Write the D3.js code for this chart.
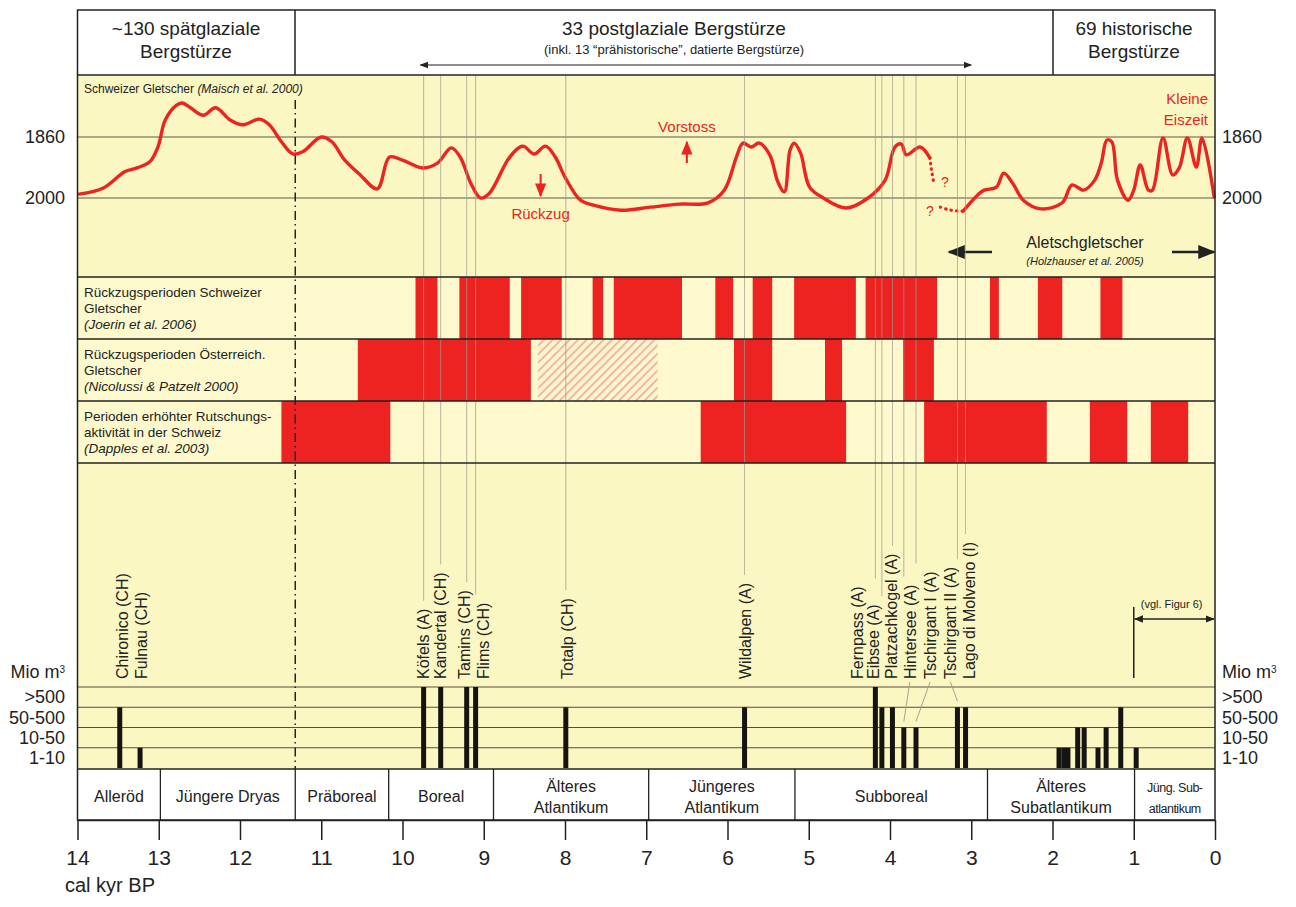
<!DOCTYPE html>
<html>
<head>
<meta charset="utf-8">
<script src="https://cdn.jsdelivr.net/npm/d3@7"></script>
<style>
  body { margin: 0; background: #fff; }
  svg { font-family: "Liberation Sans", Arial, sans-serif; }
</style>
</head>
<body>
<svg id="chart"></svg>
<script>
// glacier curve (Maisch et al. 2000): [kyr BP, level between 1860 and 2000]
var glacierOld = [[13.98,1991],[13.68,1977],[13.42,1940],[13.27,1931],[13.11,1917],[13.01,1883],[12.92,1821],
  [12.78,1787],[12.71,1782],[12.61,1793],[12.45,1810],[12.30,1793],[12.12,1821],[11.97,1832],[11.76,1819],
  [11.64,1832],[11.49,1871],[11.35,1899],[11.23,1894],[11.00,1860],[10.87,1871],[10.71,1913],[10.52,1947],
  [10.31,1979],[10.16,1906],[10.00,1913],[9.75,1931],[9.57,1920],[9.40,1885],[9.29,1906],[9.16,1966],
  [9.04,2000],[8.93,1989],[8.68,1906],[8.52,1881],[8.38,1899],[8.24,1881],[8.12,1906],[8.00,1952],
  [7.81,2005],[7.66,2016],[7.31,2028],[6.95,2021],[6.59,2014],[6.24,2011],[6.04,1982],[5.89,1906],
  [5.81,1874],[5.71,1883],[5.61,1874],[5.48,1901],[5.38,1963],[5.30,1986],[5.23,1890],[5.18,1874],
  [5.10,1897],[4.99,1975],[4.82,2000],[4.54,2023],[4.27,2000],[4.06,1959],[3.94,1883],[3.86,1876],
  [3.80,1901],[3.63,1883],[3.51,1908]];
var glacierGapA = [[3.51,1908],[3.49,1935],[3.46,1966]];
var glacierGapB = [[3.38,2021],[3.25,2028],[3.10,2030]];
var glacierYoung = [[3.10,2030],[2.92,1993],[2.84,1982],[2.69,1975],[2.60,1943],[2.49,1966],[2.36,2005],
  [2.14,2025],[1.88,2011],[1.76,1970],[1.62,1982],[1.48,1959],[1.40,1920],[1.33,1867],[1.27,1871],
  [1.20,1959],[1.07,2005],[1.00,1982],[0.92,1924],[0.82,1982],[0.77,1982],[0.64,1862],[0.52,1947],
  [0.44,1931],[0.34,1862],[0.23,1929],[0.16,1862],[0.01,1998]];
var glacierTicks = [1860, 2000];

// periods [from, to] in kyr BP
var swissRetreat = [[9.84,9.57],[9.30,8.68],[8.54,8.04],[7.66,7.53],[7.40,6.56],[6.15,5.93],[5.69,5.45],
  [5.18,4.42],[4.30,3.42],[2.77,2.66],[2.18,1.88],[1.41,1.14]];
var austrianRetreat = [[10.55,8.42],[5.92,5.45],[4.80,4.59],[3.84,3.46]];
var austrianUncertain = [[8.33,6.86]];
var slideActivity = [[11.49,10.15],[6.33,4.54],[3.58,2.07],[1.54,1.08],[0.79,0.33]];

// rock avalanches
var slideNames = ["Chironico (CH)","Fulnau (CH)","Köfels (A)","Kandertal (CH)","Tamins (CH)","Flims (CH)",
  "Totalp (CH)","Wildalpen (A)","Fernpass (A)","Eibsee (A)","Platzachkogel (A)","Hintersee (A)",
  "Tschirgant I (A)","Tschirgant II (A)","Lago di Molveno (I)"];
var slideAge = [13.48,13.23,9.74,9.53,9.21,9.10,7.99,5.79,4.18,4.10,3.97,3.83,3.68,3.17,3.07];
var slideVolume = ["50-500","1-10",">500",">500",">500",">500","50-500","50-500",">500","50-500","50-500",
  "10-50","10-50","50-500","50-500"];
var historicAge = [1.92,1.86,1.81,1.69,1.61,1.44,1.34,1.16,0.97];
var historicVolume = ["1-10","1-10","1-10","10-50","10-50","1-10","10-50","50-500","1-10"];
var volumeClasses = ["1-10","10-50","50-500",">500"];

// chronozones
var zoneNames = [["Alleröd"],["Jüngere Dryas"],["Präboreal"],["Boreal"],["Älteres","Atlantikum"],
  ["Jüngeres","Atlantikum"],["Subboreal"],["Älteres","Subatlantikum"],["Jüng. Sub-","atlantikum"]];
var zoneBounds = [14,12.98,11.32,10.17,8.88,6.97,5.17,2.80,0.99,0];
var yearTicks = d3.range(0, 15);

// label layout (px shift of rotated names, leader lines, names without guide line)
var labelDx = [2,1,0,0,-2,8,1,1,-18,-9,-1,6,14,-7,4];
var leaderFor = ["Hintersee (A)","Tschirgant I (A)","Tschirgant II (A)"];
var noGuide = ["Chironico (CH)","Fulnau (CH)"];

var W = 1296, H = 907;
var RED = "#ec2320", INK = "#222", PALE = "#fbf7c3";
var svg = d3.select("#chart").attr("width", W).attr("height", H);
svg.append("rect").attr("width", W).attr("height", H).attr("fill", "#fff");

var defs = svg.append("defs");
var hatch = defs.append("pattern").attr("id", "hatch").attr("width", 6).attr("height", 6)
  .attr("patternUnits", "userSpaceOnUse").attr("patternTransform", "rotate(45)");
hatch.append("rect").attr("width", 6).attr("height", 6).attr("fill", "#fcf5cf");
hatch.append("line").attr("x1", 1).attr("y1", 0).attr("x2", 1).attr("y2", 6)
  .attr("stroke", "#eb9a84").attr("stroke-width", 1.3);
function marker(id, color) {
  defs.append("marker").attr("id", id).attr("viewBox", "0 0 10 10").attr("refX", 9).attr("refY", 5)
    .attr("markerWidth", 7).attr("markerHeight", 7).attr("orient", "auto-start-reverse")
    .append("path").attr("d", "M0,1 L10,5 L0,9 z").attr("fill", color);
}
marker("arr", INK);
marker("arrRed", RED);

var L = 77.5, R = 1215;
var x = d3.scaleLinear().domain([14, 0]).range([L, R]);
var rows = { head: [10,75], glac: [75,277], r1: [277,339], r2: [339,401], r3: [401,463], slide: [463,769], zone: [769,820] };

// backgrounds
svg.append("rect").attr("x", L).attr("y", rows.glac[0]).attr("width", R - L).attr("height", rows.zone[0] - rows.glac[0]).attr("fill", PALE);
svg.append("rect").attr("x", L).attr("y", rows.r1[0]).attr("width", R - L).attr("height", rows.r3[1] - rows.r1[0]).attr("fill", "#fdf9cc");

// --- header
var head = svg.append("g");
function headText(cx, y, txt, size) {
  head.append("text").attr("x", cx).attr("y", y).attr("text-anchor", "middle").attr("font-size", size).attr("fill", INK).text(txt);
}
headText(186, 35, "~130 spätglaziale", 19);
headText(186, 58, "Bergstürze", 19);
headText(674, 35, "33 postglaziale Bergstürze", 19);
headText(674, 54, "(inkl. 13 “prähistorische”, datierte Bergstürze)", 13);
headText(1134, 35, "69 historische", 19);
headText(1134, 58, "Bergstürze", 19);
head.append("line").attr("x1", x(9.78)).attr("x2", x(3.0)).attr("y1", 65).attr("y2", 65)
  .attr("stroke", INK).attr("stroke-width", 1.2).attr("marker-start", "url(#arr)").attr("marker-end", "url(#arr)");

// --- glacier panel
var gy = d3.scaleLinear().domain([1860, 2000]).range([137, 198]);
var glac = svg.append("g");
glac.selectAll("line.grid").data(glacierTicks).enter().append("line")
  .attr("x1", L).attr("x2", R).attr("y1", d => gy(d)).attr("y2", d => gy(d))
  .attr("stroke", "#5d5a52").attr("stroke-width", 1);
glac.selectAll("text.ly").data(glacierTicks).enter().append("text")
  .attr("x", 65).attr("y", d => gy(d)).attr("dy", "0.35em").attr("text-anchor", "end")
  .attr("font-size", 18).attr("fill", INK).text(d => d);
glac.selectAll("text.ry").data(glacierTicks).enter().append("text")
  .attr("x", 1222).attr("y", d => gy(d)).attr("dy", "0.35em")
  .attr("font-size", 18).attr("fill", INK).text(d => d);
var t1 = glac.append("text").attr("x", 84).attr("y", 93).attr("font-size", 12).attr("fill", INK);
t1.append("tspan").text("Schweizer Gletscher ");
t1.append("tspan").attr("font-style", "italic").text("(Maisch et al. 2000)");

// --- red period rows
function periodRow(data, row, fill) {
  svg.append("g").selectAll("rect").data(data).enter().append("rect")
    .attr("x", d => x(d[0])).attr("width", d => x(d[1]) - x(d[0]))
    .attr("y", row[0]).attr("height", row[1] - row[0]).attr("fill", fill);
}
periodRow(swissRetreat, rows.r1, RED);
periodRow(austrianRetreat, rows.r2, RED);
periodRow(austrianUncertain, rows.r2, "url(#hatch)");
periodRow(slideActivity, rows.r3, RED);

function rowLabel(row, lines) {
  var g = svg.append("g");
  lines.forEach(function (l, i) {
    g.append("text").attr("x", 84).attr("y", row[0] + 20 + i * 16).attr("font-size", 13.5)
      .attr("font-style", i === 2 ? "italic" : "normal").attr("fill", INK).text(l);
  });
}
rowLabel(rows.r1, ["Rückzugsperioden Schweizer", "Gletscher", "(Joerin et al. 2006)"]);
rowLabel(rows.r2, ["Rückzugsperioden Österreich.", "Gletscher", "(Nicolussi & Patzelt 2000)"]);
rowLabel(rows.r3, ["Perioden erhöhter Rutschungs-", "aktivität in der Schweiz", "(Dapples et al. 2003)"]);

// --- rock avalanche names, gray guide lines
var slides = slideNames.map((n, i) => ({ name: n, age: slideAge[i], vol: slideVolume[i], dx: labelDx[i] }));
var labelBase = 679;
var labels = svg.append("g").selectAll("text").data(slides).enter().append("text")
  .attr("transform", d => "translate(" + (x(d.age) + d.dx) + "," + labelBase + ") rotate(-90)")
  .attr("dy", "0.36em").attr("font-size", 16).attr("fill", INK).text(d => d.name);
labels.each(function (d) { d.len = this.getComputedTextLength(); });

var guides = svg.append("g");
guides.selectAll("line").data(slides.filter(d => noGuide.indexOf(d.name) < 0)).enter().append("line")
  .attr("x1", d => x(d.age)).attr("x2", d => x(d.age))
  .attr("y1", rows.glac[0]).attr("y2", d => labelBase - d.len - 8)
  .attr("stroke", "#9e998c").attr("stroke-width", 0.8).attr("opacity", 0.9);

// --- glacier curve drawn over guides
var line = d3.line().x(d => x(d[0])).y(d => gy(d[1])).curve(d3.curveCatmullRom.alpha(0.5));
[glacierOld, glacierYoung].forEach(function (seg) {
  glac.append("path").attr("d", line(seg)).attr("fill", "none").attr("stroke", RED)
    .attr("stroke-width", 3.4).attr("stroke-linejoin", "round").attr("stroke-linecap", "round");
});
[glacierGapA, glacierGapB].forEach(function (seg) {
  glac.append("path").attr("d", line(seg)).attr("fill", "none").attr("stroke", RED)
    .attr("stroke-width", 3.2).attr("stroke-dasharray", "0.5,5").attr("stroke-linecap", "round");
});
function redText(xp, yp, txt, anchor, size) {
  glac.append("text").attr("x", xp).attr("y", yp).attr("text-anchor", anchor || "middle")
    .attr("font-size", size || 15).attr("fill", RED).text(txt);
}
redText(x(6.5), 132, "Vorstoss");
redText(x(8.3), 219, "Rückzug");
redText(1208, 104, "Kleine", "end");
redText(1208, 125, "Eiszeit", "end");
redText(945, 187, "?", "middle", 14);
redText(930, 216, "?", "middle", 14);
glac.append("line").attr("x1", x(6.5)).attr("x2", x(6.5)).attr("y1", 163).attr("y2", 142)
  .attr("stroke", RED).attr("stroke-width", 2).attr("marker-end", "url(#arrRed)");
glac.append("line").attr("x1", x(8.3)).attr("x2", x(8.3)).attr("y1", 174).attr("y2", 196)
  .attr("stroke", RED).attr("stroke-width", 2).attr("marker-end", "url(#arrRed)");
// Aletschgletscher
glac.append("text").attr("x", 1085).attr("y", 248).attr("text-anchor", "middle").attr("font-size", 16).attr("fill", INK).text("Aletschgletscher");
glac.append("text").attr("x", 1085).attr("y", 265).attr("text-anchor", "middle").attr("font-size", 11)
  .attr("font-style", "italic").attr("fill", INK).text("(Holzhauser et al. 2005)");
glac.append("line").attr("x1", 992).attr("x2", 949).attr("y1", 252).attr("y2", 252)
  .attr("stroke", INK).attr("stroke-width", 2.5).attr("marker-end", "url(#arr)");
glac.append("line").attr("x1", 1172).attr("x2", 1214).attr("y1", 252).attr("y2", 252)
  .attr("stroke", INK).attr("stroke-width", 2.5).attr("marker-end", "url(#arr)");

// --- volume classes
var vy = d3.scalePoint().domain(["base"].concat(volumeClasses)).range([768, 687]);
var vol = svg.append("g");
vol.selectAll("line").data(volumeClasses).enter().append("line")
  .attr("x1", L).attr("x2", R).attr("y1", d => vy(d)).attr("y2", d => vy(d))
  .attr("stroke", "#5b4a42").attr("stroke-width", 1);
var step = vy.step();
[[65, "end"], [1222, "start"]].forEach(function (p) {
  vol.selectAll(null).data(volumeClasses).enter().append("text")
    .attr("x", p[0]).attr("y", d => vy(d) + step / 2).attr("dy", "0.35em").attr("text-anchor", p[1])
    .attr("font-size", 18).attr("fill", INK).text(d => d);
  var m = vol.append("text").attr("x", p[0]).attr("y", vy(">500") - 15).attr("dy", "0.35em")
    .attr("text-anchor", p[1]).attr("font-size", 18).attr("fill", INK);
  m.append("tspan").text("Mio m");
  m.append("tspan").attr("dy", "-0.55em").attr("font-size", 10).text("3");
});

var allBars = slides.map(d => ({ age: d.age, vol: d.vol }))
  .concat(historicAge.map((a, i) => ({ age: a, vol: historicVolume[i] })));
vol.selectAll("rect").data(allBars).enter().append("rect")
  .attr("x", d => x(d.age) - 2.5).attr("width", 5)
  .attr("y", d => vy(d.vol)).attr("height", d => 768 - vy(d.vol)).attr("fill", "#161412");

// leader lines from offset names to their bars
vol.selectAll("line.lead").data(slides.filter(d => leaderFor.indexOf(d.name) >= 0)).enter().append("line")
  .attr("x1", d => x(d.age)).attr("y1", d => vy(d.vol) - 6)
  .attr("x2", d => x(d.age) + d.dx).attr("y2", labelBase + 3)
  .attr("stroke", "#9e998c").attr("stroke-width", 0.9);

// (vgl. Figur 6)
vol.append("line").attr("x1", x(1)).attr("x2", x(1)).attr("y1", 607).attr("y2", 678)
  .attr("stroke", INK).attr("stroke-width", 1.5);
vol.append("line").attr("x1", x(1) + 1).attr("x2", R - 1).attr("y1", 619).attr("y2", 619)
  .attr("stroke", INK).attr("stroke-width", 1.3).attr("marker-start", "url(#arr)").attr("marker-end", "url(#arr)");
vol.append("text").attr("x", x(1) + 7).attr("y", 608).attr("font-size", 11).attr("fill", INK).text("(vgl. Figur 6)");

// --- Younger Dryas / Holocene boundary
svg.append("line").attr("x1", x(11.32)).attr("x2", x(11.32)).attr("y1", 100).attr("y2", 769)
  .attr("stroke", INK).attr("stroke-width", 1.5).attr("stroke-dasharray", "9,4,1.5,4");

// --- chronozones
var zones = zoneNames.map((n, i) => ({ lines: n, from: zoneBounds[i], to: zoneBounds[i + 1] }));
var zg = svg.append("g");
zg.append("rect").attr("x", L).attr("y", rows.zone[0]).attr("width", R - L).attr("height", rows.zone[1] - rows.zone[0]).attr("fill", "#fff");
zg.selectAll("line").data(zoneBounds.slice(1, -1)).enter().append("line")
  .attr("x1", d => x(d)).attr("x2", d => x(d)).attr("y1", rows.zone[0]).attr("y2", rows.zone[1])
  .attr("stroke", INK).attr("stroke-width", 1.3);
zones.forEach(function (z) {
  var cx = (x(z.from) + x(z.to)) / 2;
  var small = z.lines[0].indexOf("Jüng.") === 0;
  z.lines.forEach(function (l, i) {
    zg.append("text").attr("x", cx).attr("y", z.lines.length === 1 ? 802 : 792 + i * 21)
      .attr("text-anchor", "middle").attr("font-size", small ? 12.5 : 16)
      .attr("letter-spacing", small ? -0.5 : 0).attr("fill", INK).text(l);
  });
});

// --- frame lines
var frame = svg.append("g").attr("stroke", INK).attr("stroke-width", 1.5).attr("fill", "none");
frame.append("rect").attr("x", L).attr("y", rows.head[0]).attr("width", R - L).attr("height", rows.zone[1] - rows.head[0]);
[rows.head[1], rows.glac[1], rows.r1[1], rows.r2[1], rows.r3[1], rows.slide[1]].forEach(function (yy) {
  frame.append("line").attr("x1", L).attr("x2", R).attr("y1", yy).attr("y2", yy);
});
[295, 1053].forEach(function (xx) {
  frame.append("line").attr("x1", xx).attr("x2", xx).attr("y1", rows.head[0]).attr("y2", rows.head[1]);
});

// --- time axis
var axis = svg.append("g").attr("transform", "translate(0," + rows.zone[1] + ")")
  .call(d3.axisBottom(x).tickValues(yearTicks).tickFormat(d3.format("d")).tickSize(20).tickSizeOuter(0).tickPadding(10));
axis.selectAll("line, path").attr("stroke", INK).attr("stroke-width", 1.5);
axis.selectAll("text").attr("font-size", 21).attr("fill", INK).attr("font-family", "Liberation Sans, Arial, sans-serif");
svg.append("text").attr("x", 65).attr("y", 892).attr("font-size", 20).attr("fill", INK).text("cal kyr BP");
</script>
</body>
</html>
